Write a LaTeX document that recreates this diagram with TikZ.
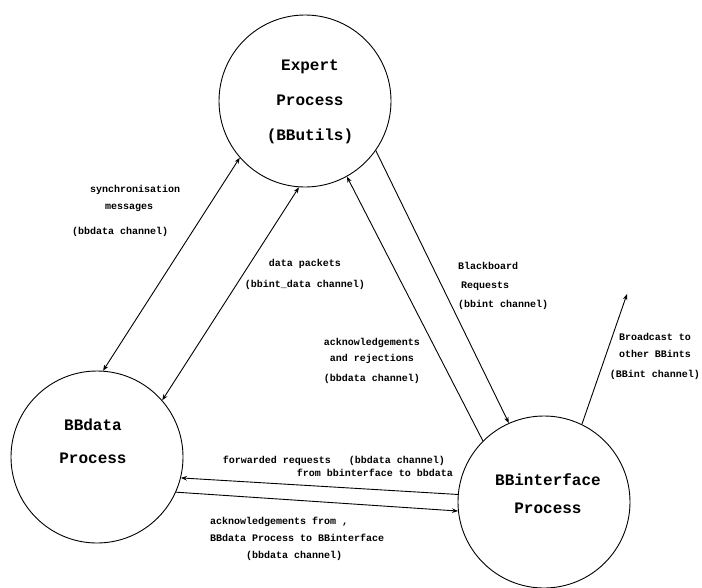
\documentclass[tikz,border=0pt]{standalone}
\usepackage{fontspec}
\setmonofont{Liberation Mono}
\usetikzlibrary{arrows.meta}

\begin{document}
\begin{tikzpicture}[x=1pt, y=-1pt,
        process/.style={draw, circle, line width=0.9pt, minimum size=172pt, inner sep=0pt},
        procname/.style={align=center, inner sep=0pt},
        chan/.style={font=\ttfamily\bfseries\fontsize{10}{17}\selectfont, align=center, inner sep=0pt},
        flow/.style={line width=0.9pt, -{Stealth[length=6pt, width=4.5pt]}},
        bothflow/.style={line width=0.9pt, {Stealth[length=6pt, width=4.5pt]}-{Stealth[length=6pt, width=4.5pt]}}]
    \useasboundingbox (0,0) rectangle (702,587);

    \node[process] (expert) at (305,101) {};
    \node[process] (bbdata) at (97,457) {};
    \node[process] (bbint) at (544,502) {};

    \node[procname, font=\ttfamily\bfseries\fontsize{16}{35}\selectfont] (expert-name) at (310,102)
        {Expert\\Process\\(BButils)};
    \node[procname, font=\ttfamily\bfseries\fontsize{16}{33}\selectfont] (bbdata-name) at (93,441)
        {BBdata\\Process};
    \node[procname, font=\ttfamily\bfseries\fontsize{16}{28}\selectfont] (bbint-name) at (548,494)
        {BBinterface\\Process};

    \node[chan, align=left, anchor=west] (sync-lbl) at (72,211)
        {\hspace*{18pt}synchronisation\\\hspace*{33pt}messages\\[8pt](bbdata channel)};
    \node[chan, font=\ttfamily\bfseries\fontsize{10}{21}\selectfont] (data-lbl) at (305,274)
        {data packets\\(bbint\_data channel)};
    \node[chan, font=\ttfamily\bfseries\fontsize{10}{16}\selectfont] (ackrej-lbl) at (372,361)
        {acknowledgements\\and rejections\\[4pt](bbdata channel)};
    \node[chan, font=\ttfamily\bfseries\fontsize{10}{19}\selectfont, align=left, anchor=west] (req-lbl) at (458,286)
        {Blackboard\\\hspace*{3pt}Requests\\(bbint channel)};
    \node[chan] (bcast-lbl) at (655,356) {Broadcast to\\other BBints\\[3pt](BBint channel)};
    \node[chan, font=\ttfamily\bfseries\fontsize{10}{13}\selectfont, align=right, anchor=east] (fwd-lbl) at (453,466)
        {forwarded requests\hspace{18pt}(bbdata channel)\hspace*{8pt}\\from bbinterface to bbdata};
    \node[chan, align=left, anchor=west] (ackfrom-lbl) at (210,539)
        {acknowledgements from ,\\BBdata Process to BBinterface\\\hspace*{36pt}(bbdata channel)};

    \coordinate (bcast) at (627,294);

    \draw[bothflow] (expert.221) -- (bbdata.86);
    \draw[bothflow] (bbdata.41) -- (expert.266);
    \draw[flow] (bbint.135) -- (expert.299);
    \draw[flow] (expert.325) -- (bbint.114);
    \draw[flow] (bbint.64) -- (bcast);
    \draw[flow] (bbint.175) -- (bbdata.346);
    \draw[flow] (bbdata.336) -- (bbint.186);
\end{tikzpicture}
\end{document}
